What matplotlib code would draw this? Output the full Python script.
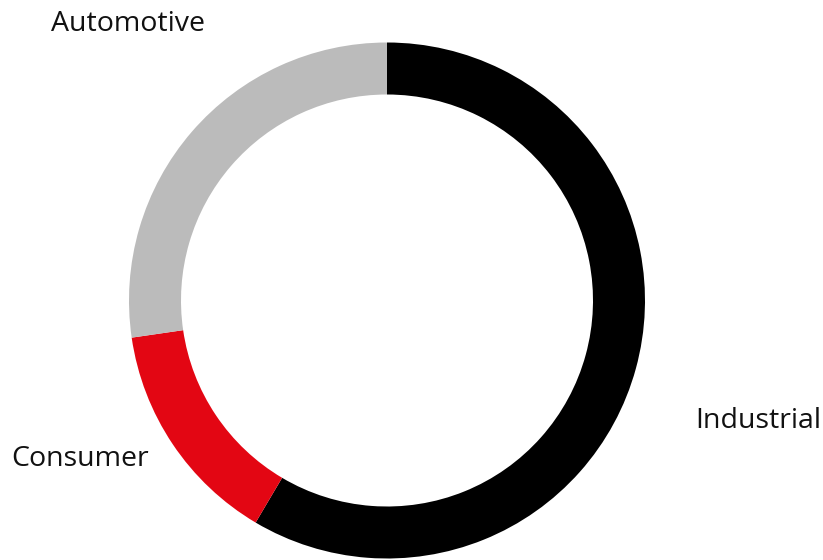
import matplotlib.pyplot as plt

# Umsatzanteile nach Segment (%)
segments = ['Industrial', 'Consumer', 'Automotive']
shares = [58.5, 14.2, 27.3]
colors = ['#000000', '#E30613', '#BBBBBB']

plt.rcParams['font.family'] = ['Open Sans', 'DejaVu Sans']

fig = plt.figure(figsize=(8.23, 5.6), dpi=100)
ax = fig.add_axes([0, 0, 1, 1])

ax.pie(shares, colors=colors, startangle=90, counterclock=False,
       center=(387, 259.5), radius=258,
       wedgeprops=dict(width=52, linewidth=0), frame=True)
ax.set_xlim(0, 823)
ax.set_ylim(0, 560)
ax.set_aspect('equal')
ax.axis('off')

# Beschriftungen der Segmente
style = dict(fontsize=20.5, va='center', ha='left', color='#111111')
ax.text(51, 536, 'Automotive', **style)
ax.text(695, 139, 'Industrial', **style)
ax.text(11, 101, 'Consumer', **style)

fig.savefig('out.png', dpi=100)
